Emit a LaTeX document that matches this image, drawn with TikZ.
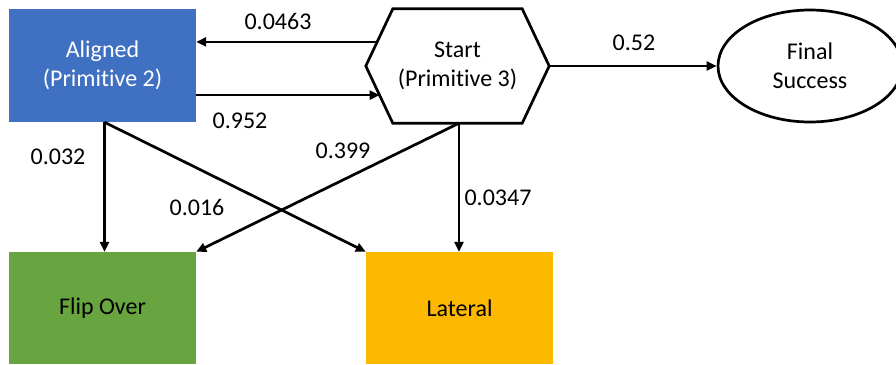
\documentclass[tikz,border=0pt]{standalone}
\usepackage{fontspec}
\setmainfont[Ligatures=NoCommon]{Carlito}
\usetikzlibrary{arrows.meta,shapes.geometric,calc}
\definecolor{cblue}{HTML}{4070C2}
\definecolor{cgreen}{HTML}{68A540}
\definecolor{corange}{HTML}{FDB900}
\begin{document}
\begin{tikzpicture}[x=1pt,y=-1pt,
  txt/.style={font=\fontsize{24}{29}\selectfont},
  box/.style={txt,rectangle,minimum width=187pt,minimum height=113pt,inner sep=0pt,align=center},
  arr/.style={-{Triangle[length=10pt,width=9pt]},line width=2.7pt},
  lbl/.style={txt,inner sep=0pt},
  outline/.style={line width=2.7pt,line join=miter}]
\useasboundingbox (0,0) rectangle (896,364);
\clip (0,0) rectangle (896,364);
% nodes
\node[box,fill=cblue,text=white] (aligned) at (102.5,65.5) {Aligned\\(Primitive 2)};
\node[box,minimum width=183pt,minimum height=114pt] (start) at (457.5,66) {Start\\(Primitive 3)};
\draw[outline] (start.west) -- ([xshift=27pt]start.north west) -- ([xshift=-27pt]start.north east)
  -- (start.east) -- ([xshift=-27pt]start.south east) -- ([xshift=27pt]start.south west) -- cycle;
\node[box,ellipse,draw,line width=2.7pt,minimum width=184pt,minimum height=112pt] (final) at (810,66) {Final\\Success};
\node[box,fill=cgreen,minimum height=112pt] (flip) at (102.5,308) {Flip Over};
\node[box,fill=corange,minimum height=112pt] (lateral) at (459.5,308) {Lateral};
% edge points on the hexagon
\coordinate (s1) at ($(start.west)!0.421!([xshift=27pt]start.north west)$);
\coordinate (s2) at ($(start.west)!0.509!([xshift=27pt]start.south west)$);
\coordinate (as) at ([xshift=2pt]aligned.south);
\coordinate (ss) at ([xshift=1.5pt]start.south);
% connectors
\draw[arr] (s1) -- (s1 -| aligned.east);
\draw[arr] (s2 -| aligned.east) -- (s2);
\draw[arr] (start.east) -- (final.west);
\draw[arr] (as) -- (as |- flip.north);
\draw[arr] (as) -- (lateral.north west);
\draw[arr] (ss) -- (flip.north east);
\draw[arr] (ss) -- (ss |- lateral.north);
% labels
\node[lbl] (l1) at (278,21) {0.0463};
\node[lbl] (l2) at (240,121) {0.952};
\node[lbl] (l3) at (58,157) {0.032};
\node[lbl] (l4) at (343,151) {0.399};
\node[lbl] (l5) at (197,207) {0.016};
\node[lbl] (l6) at (498,198) {0.0347};
\node[lbl] (l7) at (634,43) {0.52};
\end{tikzpicture}
\end{document}
